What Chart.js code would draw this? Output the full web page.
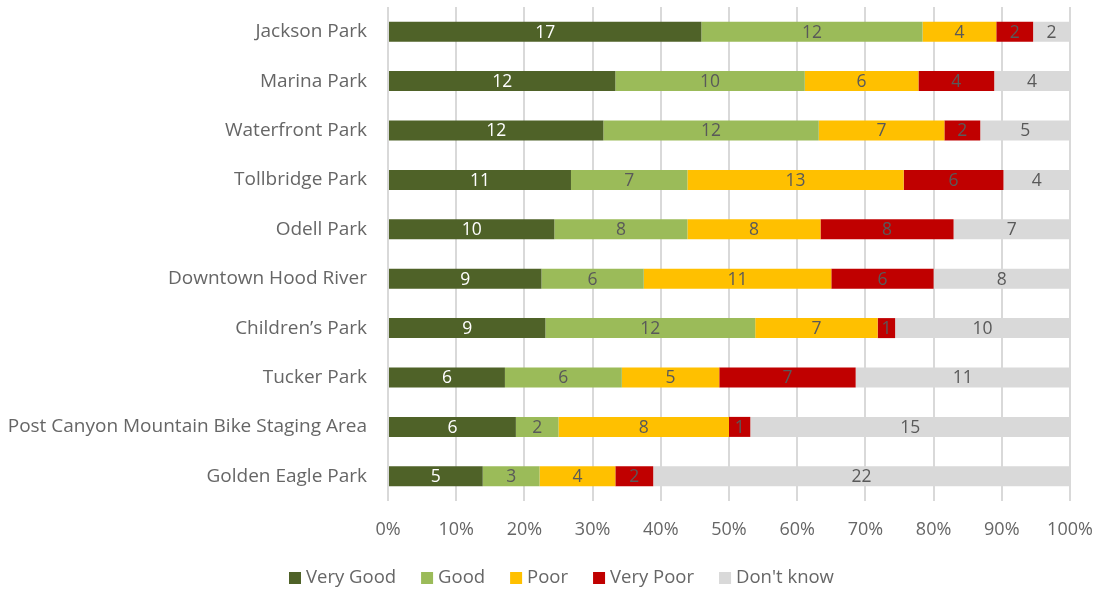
<!DOCTYPE html>
<html>
<head>
<meta charset="utf-8">
<script src="https://cdn.jsdelivr.net/npm/chart.js@4/dist/chart.umd.min.js"></script>
<style>
  html, body { margin: 0; padding: 0; background: #fff; }
  #wrap { width: 1099px; height: 590px; }
</style>
</head>
<body>
<div id="wrap"><canvas id="parks" width="1099" height="590"></canvas></div>
<script>
// ─── Data ─────────────────────────────────────────────────
const parks = [
    'Jackson Park', 'Marina Park', 'Waterfront Park', 'Tollbridge Park', 'Odell Park',
    'Downtown Hood River', 'Children\u2019s Park', 'Tucker Park',
    'Post Canyon Mountain Bike Staging Area', 'Golden Eagle Park',
];
const veryGood  = [17, 12, 12, 11, 10,  9,  9,  6,  6,  5];
const good      = [12, 10, 12,  7,  8,  6, 12,  6,  2,  3];
const poor      = [ 4,  6,  7, 13,  8, 11,  7,  5,  8,  4];
const veryPoor  = [ 2,  4,  2,  6,  8,  6,  1,  7,  1,  2];
const dontKnow  = [ 2,  4,  5,  4,  7,  8, 10, 11, 15, 22];
const xTicks    = [0, 10, 20, 30, 40, 50, 60, 70, 80, 90, 100];

const SERIES = [
    { label: 'Very Good',  counts: veryGood, color: '#4F6228', text: '#FFFFFF' },
    { label: 'Good',       counts: good,     color: '#9BBB59', text: '#595959' },
    { label: 'Poor',       counts: poor,     color: '#FFC000', text: '#595959' },
    { label: 'Very Poor',  counts: veryPoor, color: '#C00000', text: '#595959' },
    { label: "Don't know", counts: dontKnow, color: '#D9D9D9', text: '#595959' },
];

const totals = parks.map((_, i) => SERIES.reduce((s, d) => s + d.counts[i], 0));
const FONT = "'Open Sans', sans-serif";
const GREY = '#666666';

// ─── Segment labels (raw counts, centred in each piece) ───
const countLabels = {
    id: 'countLabels',
    afterDatasetsDraw(chart) {
        const ctx = chart.ctx;
        ctx.save();
        ctx.font = `17.5px ${FONT}`;
        ctx.textAlign = 'center';
        ctx.textBaseline = 'middle';
        chart.data.datasets.forEach((ds, di) => {
            chart.getDatasetMeta(di).data.forEach((bar, i) => {
                const n = ds.counts[i];
                if (!n) return;
                ctx.fillStyle = ds.textColor;
                ctx.fillText(String(n), (bar.x + bar.base) / 2, bar.y + 1);
            });
        });
        ctx.restore();
    }
};

// ─── Legend row under the axis ────────────────────────────
const bottomLegend = {
    id: 'bottomLegend',
    afterDraw(chart) {
        const ctx = chart.ctx;
        const box = 12, gapText = 5, gapItem = 25, cy = 578;
        ctx.save();
        ctx.font = `18.5px ${FONT}`;
        ctx.textBaseline = 'middle';
        let x = 289;
        SERIES.forEach(s => {
            ctx.fillStyle = s.color;
            ctx.fillRect(x, cy - box / 2, box, box);
            ctx.fillStyle = GREY;
            ctx.fillText(s.label, x + box + gapText, cy);
            x += box + gapText + ctx.measureText(s.label).width + gapItem;
        });
        ctx.restore();
    }
};

// ─── Chart ────────────────────────────────────────────────
new Chart(document.getElementById('parks'), {
    type: 'bar',
    data: {
        labels: parks,
        datasets: SERIES.map(s => ({
            label: s.label,
            counts: s.counts,
            textColor: s.text,
            data: s.counts.map((v, i) => v / totals[i] * 100),
            backgroundColor: s.color,
            borderWidth: 0,
            barPercentage: 0.405,
            categoryPercentage: 1,
        }))
    },
    options: {
        indexAxis: 'y',
        responsive: false,
        animation: false,
        layout: { padding: { left: 0, right: 29, top: 7, bottom: 0 } },
        scales: {
            x: {
                stacked: true,
                min: 0, max: 100,
                afterBuildTicks: axis => { axis.ticks = xTicks.map(v => ({ value: v })); },
                afterFit: axis => {
                    axis.height = 89;
                    axis.paddingLeft = 0;
                    axis.paddingRight = 0;
                },
                grid: {
                    color: '#D9D9D9', lineWidth: 2,
                    drawTicks: true, tickLength: 18, tickColor: 'rgba(0,0,0,0)'
                },
                border: { display: false },
                ticks: {
                    color: GREY, font: { family: FONT, size: 18 }, padding: 0,
                    callback: v => v + '%'
                }
            },
            y: {
                stacked: true,
                afterFit: axis => {
                    axis.width = 388;
                    axis.paddingTop = 0;
                    axis.paddingBottom = 0;
                },
                grid: { display: false, drawTicks: true, tickLength: 21 },
                border: { display: false },
                ticks: { color: GREY, font: { family: FONT, size: 19 }, padding: 0 }
            }
        },
        plugins: {
            legend: { display: false },
            tooltip: { enabled: false }
        }
    },
    plugins: [countLabels, bottomLegend]
});
</script>
</body>
</html>
